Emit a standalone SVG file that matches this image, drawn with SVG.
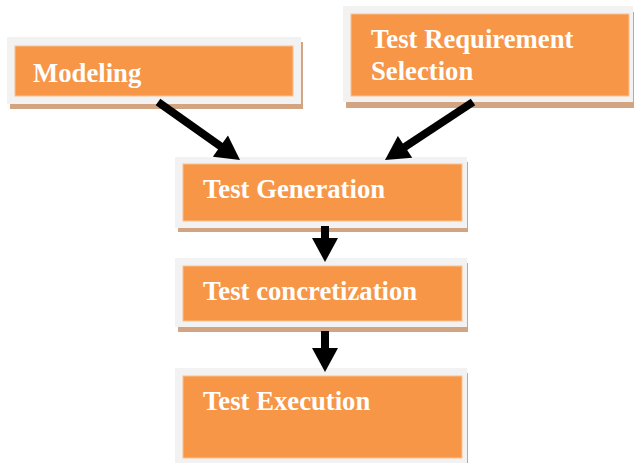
<svg xmlns="http://www.w3.org/2000/svg" width="634" height="463" viewBox="0 0 634 463">
<style>
.sh{fill:#d2a482}
.fr{fill:#f2f2f2}
.bx{fill:#f79646;stroke:#fac090;stroke-width:1}
.t{font-family:"Liberation Serif","Times New Roman",serif;font-weight:bold;font-size:26.7px;fill:#ffffff}
.ar{stroke:#000;stroke-width:8;fill:none}
</style>
<defs>
<marker id="ah" markerUnits="userSpaceOnUse" markerWidth="26" markerHeight="26" viewBox="0 0 24 26" refX="4" refY="13" orient="auto">
<path d="M0,0 L24,13 L0,26 z" fill="#000"/>
</marker>
</defs>
<rect width="634" height="463" fill="#fff"/>
<g id="modeling">
<rect class="sh" x="10" y="42" width="293" height="67"/>
<rect class="fr" x="7" y="37" width="294" height="67"/>
<rect class="bx" x="15" y="46" width="278" height="50"/>
<text class="t" x="33" y="82">Modeling</text>
</g>
<g id="test-requirement-selection">
<rect class="sh" x="346" y="12" width="288" height="96"/>
<rect class="fr" x="343" y="6" width="290" height="96"/>
<rect class="bx" x="351" y="14" width="278" height="82"/>
<text class="t" x="371" y="48">Test Requirement</text>
<text class="t" x="371" y="80">Selection</text>
</g>
<g id="test-generation">
<rect class="sh" x="178" y="162" width="290" height="70"/>
<rect class="fr" x="175" y="157" width="292" height="71"/>
<rect class="bx" x="183" y="164" width="279" height="57"/>
<text class="t" x="203" y="198">Test Generation</text>
</g>
<g id="test-concretization">
<rect class="sh" x="178" y="263" width="290" height="69"/>
<rect class="fr" x="175" y="258" width="292" height="69"/>
<rect class="bx" x="183" y="266" width="279" height="55"/>
<text class="t" x="203" y="300">Test concretization</text>
</g>
<g id="test-execution">
<rect class="sh" x="178" y="373" width="290" height="90"/>
<rect class="fr" x="175" y="368" width="292" height="95"/>
<rect class="bx" x="183" y="376" width="279" height="82"/>
<text class="t" x="203" y="410">Test Execution</text>
</g>
<g id="connectors">
<line class="ar" x1="158" y1="102" x2="223.7" y2="148.4" marker-end="url(#ah)"/>
<line class="ar" x1="473" y1="102" x2="401.7" y2="149" marker-end="url(#ah)"/>
<line class="ar" x1="325" y1="226" x2="325" y2="242" marker-end="url(#ah)"/>
<line class="ar" x1="325" y1="331" x2="325" y2="352" marker-end="url(#ah)"/>
</g>
</svg>
